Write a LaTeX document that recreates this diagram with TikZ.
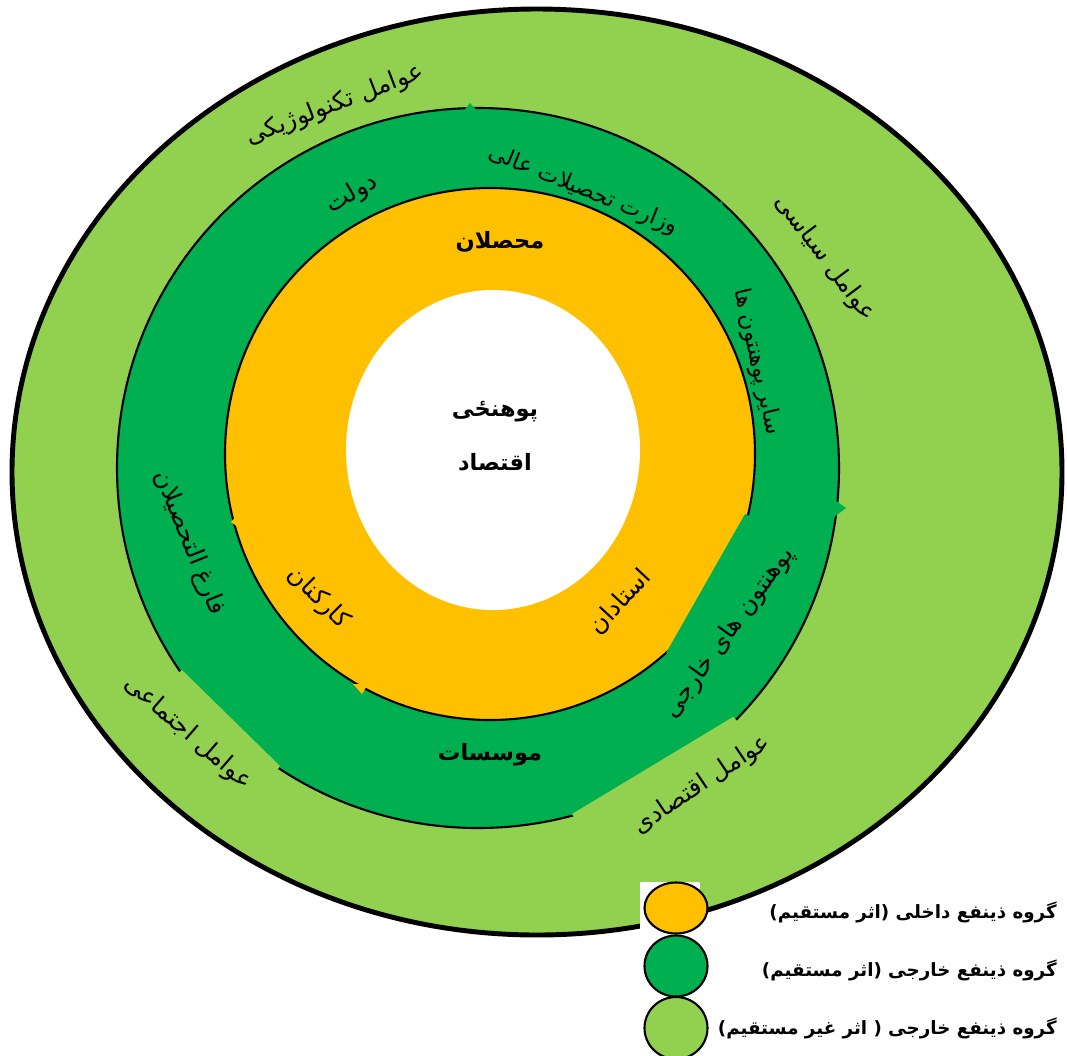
\documentclass[tikz,border=0pt]{standalone}
\usepackage{fontspec}
\newfontfamily\arabicfont[Script=Arabic]{DejaVu Sans}
\TeXXeTstate=1
\definecolor{lgreen}{HTML}{92D050}
\definecolor{dgreen}{HTML}{00B050}
\definecolor{gold}{HTML}{FFC000}
\newcommand{\fa}[1]{\beginR #1\endR}

\begin{document}
\begin{tikzpicture}[x=0.025cm, y=-0.025cm,
    every node/.style={inner sep=0pt, font=\arabicfont\fontsize{17.5}{19}\selectfont},
    small/.style={font=\arabicfont\fontsize{16}{18}\selectfont},
    bold/.style={font=\arabicfont\bfseries\fontsize{16}{18}\selectfont},
    key/.style={anchor=east, font=\arabicfont\bfseries\fontsize{13}{15}\selectfont}]
\useasboundingbox (0,0) rectangle (1067,1055);

% rings
\draw[line width=3.5pt, fill=lgreen] (537,472) ellipse [x radius=525, y radius=463];
\draw[line width=1.5pt, fill=dgreen] (478,468) ellipse [x radius=361, y radius=360];
\fill[lgreen] (182,670) -- (280,766) -- (262,792) -- (158,690) -- cycle;
\fill[lgreen] (733,717) -- (572,814) -- (588,838) -- (752,735) -- cycle;
\fill[dgreen] (462,113) -- (470,103) -- (479,113) -- cycle;
\fill[dgreen] (712,207) -- (722,201) -- (724,212) -- cycle;
\fill[dgreen] (829,496) -- (846,508) -- (829,521) -- cycle;
\draw[line width=1.5pt, fill=gold] (490,454) ellipse [x radius=265, y radius=266];
\fill[dgreen] (745,514) -- (666,653) -- (692,662) -- (768,524) -- cycle;
\fill[gold] (240,512) -- (231,522) -- (242,530) -- cycle;
\fill[gold] (353,684) -- (362,694) -- (368,684) -- cycle;
\fill[white] (493,450) ellipse [x radius=147, y radius=160];

% outer ring
\node[rotate=21] (tech) at (335,105) {\fa{عوامل تکنولوژیکی}};
\node[rotate=-53] (siasi) at (825,258) {\fa{عوامل سیاسی}};
\node[rotate=34] (eqt) at (702,785) {\fa{عوامل اقتصادی}};
\node[rotate=-41] (ejt) at (188,733) {\fa{عوامل اجتماعی}};

% middle ring
\node[rotate=30] (dolat) at (352,194) {\fa{دولت}};
\node[small, rotate=-22] (vezarat) at (583,190) {\fa{وزارت تحصیلات عالی}};
\node[small, rotate=-77] (saier) at (757,362) {\fa{سایر پوهنتون ها}};
\node[rotate=54] (kharej) at (729,633) {\fa{پوهنتون های خارجی}};
\node[bold] (moas) at (490,755) {\fa{موسسات}};
\node[rotate=-68] (farigh) at (189,543) {\fa{فارغ التحصیلان}};

% inner ring
\node[bold] (mohas) at (500,242) {\fa{محصلان}};
\node[rotate=-45] (kark) at (318,598) {\fa{کارکنان}};
\node[rotate=47] (ostad) at (620,602) {\fa{استادان}};
\node[bold] (pohan) at (495,412) {\fa{پوهنځی}};
\node[bold] (eqtesad) at (495,462) {\fa{اقتصاد}};

% legend
\fill[white] (640,882) rectangle (700,1055);
\draw[line width=1.5pt, fill=gold] (676,908) ellipse [x radius=31.5, y radius=25.5];
\draw[line width=1.5pt, fill=dgreen] (676,966) ellipse [x radius=31.5, y radius=30.5];
\draw[line width=1.5pt, fill=lgreen] (676,1028) ellipse [x radius=31.5, y radius=31];
\node[key] (k1) at (1057,912) {\fa{گروه ذینفع داخلی (اثر مستقیم)}};
\node[key] (k2) at (1057,970) {\fa{گروه ذینفع خارجی (اثر مستقیم)}};
\node[key] (k3) at (1057,1028) {\fa{گروه ذینفع خارجی ( اثر غیر مستقیم)}};
\end{tikzpicture}
\end{document}
